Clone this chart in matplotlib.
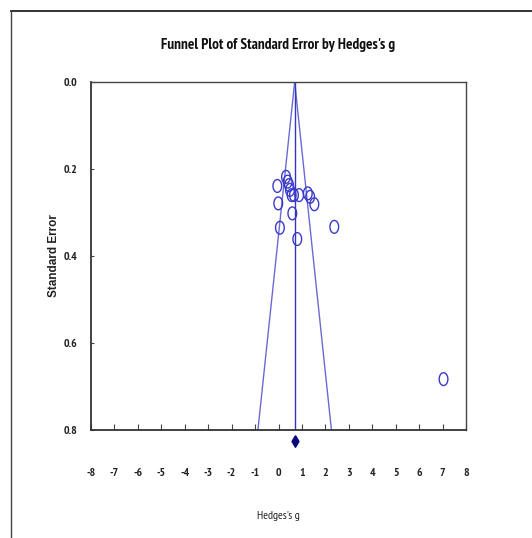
import matplotlib
matplotlib.use("Agg")
import matplotlib.pyplot as plt
from matplotlib.path import Path
from matplotlib.lines import Line2D
import numpy as np

# data
hedges_g = [-0.05, -0.01, 0.32, 0.39, 0.45, 0.49, 0.56, 0.66, 0.88, 1.25, 1.35, 1.53,
            0.59, 0.06, 2.38, 0.80, 7.04]
std_err = [0.239, 0.279, 0.218, 0.229, 0.237, 0.248, 0.260, 0.260, 0.260, 0.256, 0.264,
           0.281, 0.302, 0.335, 0.333, 0.361, 0.683]
mean_g = 0.69
se_max = 0.8
diamond_se = 0.825
x_ticks = list(range(-8, 9))
y_ticks = [0.0, 0.2, 0.4, 0.6, 0.8]

NARROW = ['PT Sans Narrow', 'Roboto Condensed', 'Liberation Sans', 'DejaVu Sans']
WIDE = ['Liberation Sans', 'DejaVu Sans']
plt.rcParams['font.family'] = NARROW

fig = plt.figure(figsize=(5.32, 5.38), dpi=100)
ax = fig.add_axes([0.171, 0.2007, 0.705, 0.6469])

# funnel
se_line = np.array([0.0, se_max])
ax.plot(mean_g - 1.96 * se_line, se_line, color='#6a6ad6', lw=1.0)
ax.plot(mean_g + 1.96 * se_line, se_line, color='#6a6ad6', lw=1.0)
ax.plot([mean_g, mean_g], [0, se_max], color='#3434c0', lw=1.0)

# ellipse marker
t = np.linspace(0, 2 * np.pi, 40)
ell = Path(np.column_stack([0.68 * np.cos(t), np.sin(t)]))
ax.scatter(hedges_g, std_err, marker=ell, s=85, facecolors='none',
           edgecolors='#3a3ac8', linewidths=1.0, zorder=3, clip_on=False)

dia = Path([(0, 1), (0.6, 0), (0, -1), (-0.6, 0), (0, 1)])
ax.scatter([mean_g], [diamond_se], marker=dia, s=70, color='#0a0a80',
           zorder=4, clip_on=False)

ax.set_xlim(-8, 8)
ax.set_ylim(0.8, 0.0)
ax.set_xticks(x_ticks)
ax.set_xticklabels([str(v) for v in x_ticks])
ax.set_yticks(y_ticks)
ax.set_yticklabels(['%.1f' % v for v in y_ticks])
ax.tick_params(axis='x', direction='in', length=4, pad=27, labelsize=8.5, colors='#444444')
ax.tick_params(axis='y', direction='in', length=2, pad=10, labelsize=8.5, colors='#444444')
for lab in ax.get_xticklabels() + ax.get_yticklabels():
    lab.set_fontweight('bold')
    lab.set_color('#222222')

for s in ['left', 'bottom']:
    ax.spines[s].set_color('#333333')
    ax.spines[s].set_linewidth(1.3)
for s in ['top', 'right']:
    ax.spines[s].set_color('#444444')
    ax.spines[s].set_linewidth(1.0)

ax.set_title("Funnel Plot of Standard Error by Hedges's g", fontsize=11,
             fontweight='bold', color='#111111', pad=24)
ax.set_xlabel("Hedges's g", fontsize=8.5, labelpad=24, color='#222222')
ax.set_ylabel("Standard Error", fontsize=8.5, fontweight='bold', labelpad=2,
              family=WIDE, color='#222222')

# outer frame lines
fig.add_artist(Line2D([11 / 532, 1.0], [1 - 11 / 538, 1 - 11 / 538],
                      transform=fig.transFigure, color='#222222', lw=1.3))
fig.add_artist(Line2D([11 / 532, 11 / 532], [0.0, 1 - 11 / 538],
                      transform=fig.transFigure, color='#444444', lw=1.0))

fig.savefig('out.png', dpi=100)
